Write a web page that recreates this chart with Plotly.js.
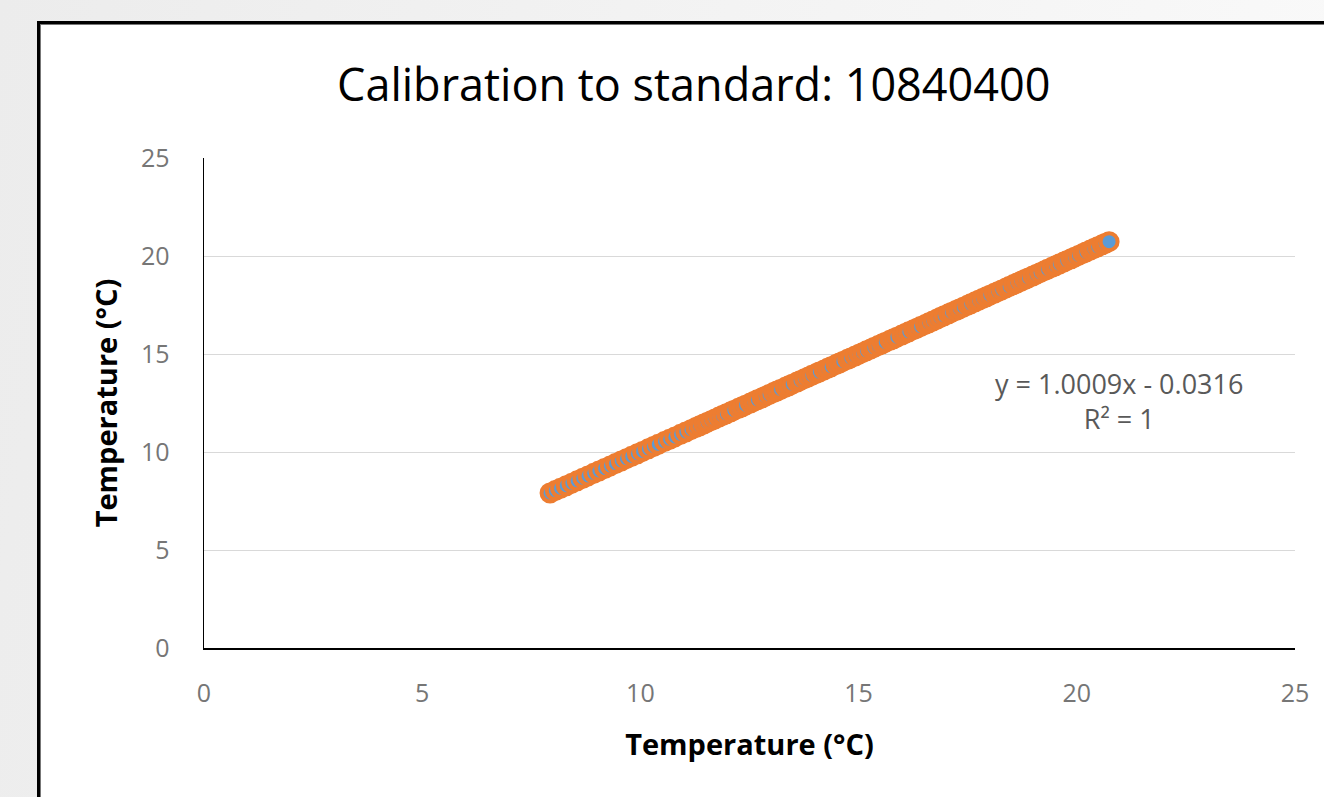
<!DOCTYPE html>
<html>
<head>
<meta charset="utf-8">
<script src="https://cdn.plot.ly/plotly-3.0.1.min.js"></script>
<style>
html, body { margin: 0; padding: 0; width: 1324px; height: 797px; overflow: hidden; }
body { background: linear-gradient(100deg, #ececec 0%, #f3f3f3 50%, #fafafa 100%); position: relative; }
#panel { position: absolute; left: 37px; top: 21px; width: 1400px; height: 900px; background: #ffffff; border: 3px solid #000; box-shadow: inset 1px 1px 0 #777; }
#chart { position: absolute; left: 0; top: 0; width: 1324px; height: 797px; }
</style>
</head>
<body>
<div id="panel"></div>
<div id="chart"></div>
<script>
const chartTitle = "Calibration to standard: 10840400";
const xAxisTitle = "Temperature (°C)";
const yAxisTitle = "Temperature (°C)";
const trendText = "y = 1.0009x - 0.0316<br>R² = 1";

const loggerTemp = [7.93, 8.05, 8.17, 8.30, 8.43, 8.55, 8.68, 8.80, 8.93, 9.05, 9.18, 9.31, 9.43, 9.56, 9.68, 9.80, 9.93, 10.05, 10.18, 10.30, 10.41, 10.55, 10.67, 10.79, 10.92, 11.04, 11.16, 11.27, 11.36, 11.45, 11.53, 11.62, 11.71, 11.80, 11.88, 11.97, 12.07, 12.14, 12.25, 12.33, 12.41, 12.52, 12.60, 12.68, 12.79, 12.86, 12.95, 13.05, 13.13, 13.21, 13.32, 13.40, 13.48, 13.59, 13.66, 13.76, 13.85, 13.93, 14.03, 14.10, 14.21, 14.29, 14.37, 14.48, 14.56, 14.64, 14.75, 14.82, 14.92, 15.01, 15.09, 15.18, 15.28, 15.35, 15.45, 15.54, 15.61, 15.72, 15.80, 15.88, 15.99, 16.07, 16.15, 16.26, 16.34, 16.42, 16.53, 16.61, 16.70, 16.79, 16.87, 16.96, 17.06, 17.13, 17.23, 17.31, 17.40, 17.50, 17.57, 17.67, 17.75, 17.84, 17.93, 18.01, 18.11, 18.19, 18.28, 18.38, 18.45, 18.55, 18.63, 18.72, 18.81, 18.89, 18.99, 19.07, 19.16, 19.26, 19.33, 19.43, 19.51, 19.60, 19.70, 19.77, 19.87, 19.95, 20.04, 20.14, 20.21, 20.31, 20.39, 20.48, 20.58, 20.65, 20.74];
const standardTemp = [7.91, 8.03, 8.15, 8.28, 8.41, 8.53, 8.66, 8.78, 8.91, 9.03, 9.16, 9.29, 9.41, 9.54, 9.66, 9.78, 9.91, 10.03, 10.16, 10.28, 10.39, 10.53, 10.65, 10.77, 10.90, 11.02, 11.14, 11.25, 11.34, 11.43, 11.51, 11.60, 11.69, 11.78, 11.86, 11.95, 12.05, 12.12, 12.23, 12.31, 12.39, 12.50, 12.58, 12.66, 12.77, 12.84, 12.93, 13.03, 13.11, 13.19, 13.30, 13.38, 13.46, 13.57, 13.64, 13.74, 13.83, 13.91, 14.01, 14.08, 14.19, 14.27, 14.35, 14.46, 14.54, 14.62, 14.73, 14.80, 14.90, 14.99, 15.07, 15.16, 15.26, 15.33, 15.43, 15.52, 15.59, 15.70, 15.78, 15.86, 15.97, 16.05, 16.13, 16.24, 16.32, 16.40, 16.51, 16.59, 16.68, 16.77, 16.86, 16.95, 17.05, 17.12, 17.22, 17.30, 17.39, 17.49, 17.56, 17.66, 17.74, 17.83, 17.92, 18.00, 18.10, 18.18, 18.27, 18.37, 18.44, 18.54, 18.62, 18.71, 18.80, 18.88, 18.98, 19.06, 19.15, 19.25, 19.32, 19.42, 19.50, 19.59, 19.69, 19.76, 19.86, 19.94, 20.03, 20.13, 20.20, 20.30, 20.38, 20.47, 20.57, 20.64, 20.73];
const tickVals = [0, 5, 10, 15, 20, 25];

const font = '"Open Sans", "Noto Sans", sans-serif';

const data = [{
  type: 'scatter', mode: 'markers',
  x: loggerTemp, y: standardTemp,
  marker: { size: 17, color: '#5b9bd5', line: { color: '#ed7d31', width: 4 } },
  hoverinfo: 'x+y', showlegend: false
}];

const layout = {
  width: 1324, height: 797,
  paper_bgcolor: 'rgba(0,0,0,0)', plot_bgcolor: 'rgba(0,0,0,0)',
  margin: { l: 204, r: 29, t: 158, b: 149 },
  showlegend: false,
  font: { family: font, color: '#595959' },
  title: { text: chartTitle, x: 0.524, xanchor: 'center', y: 0.893, yanchor: 'middle',
           font: { family: font, size: 45, color: '#000000' } },
  xaxis: {
    range: [0, 25], tickvals: tickVals, ticktext: tickVals.map(String),
    showgrid: false, zeroline: false, showline: true, linecolor: '#000', linewidth: 1.5,
    ticks: '', ticklabelstandoff: 22,
    tickfont: { size: 25, color: '#767676', family: font },
    title: { text: xAxisTitle, standoff: 27, font: { size: 29, color: '#000', family: font, weight: 'bold' } }
  },
  yaxis: {
    range: [0, 25], tickvals: tickVals, ticktext: tickVals.map(String),
    showgrid: true, gridcolor: '#d9d9d9', gridwidth: 1, zeroline: false,
    showline: true, linecolor: '#000', linewidth: 1.5,
    ticks: '', ticklabelstandoff: 28,
    tickfont: { size: 25, color: '#767676', family: font },
    title: { text: yAxisTitle, standoff: 15, font: { size: 29, color: '#000', family: font, weight: 'bold' } }
  },
  annotations: [{
    xref: 'x', yref: 'y', x: 20.97, y: 12.58, text: trendText, showarrow: false,
    xanchor: 'center', yanchor: 'middle', align: 'center',
    font: { size: 27, color: '#595959', family: font }
  }]
};

Plotly.newPlot('chart', data, layout, { displayModeBar: false, staticPlot: true });
</script>
</body>
</html>
